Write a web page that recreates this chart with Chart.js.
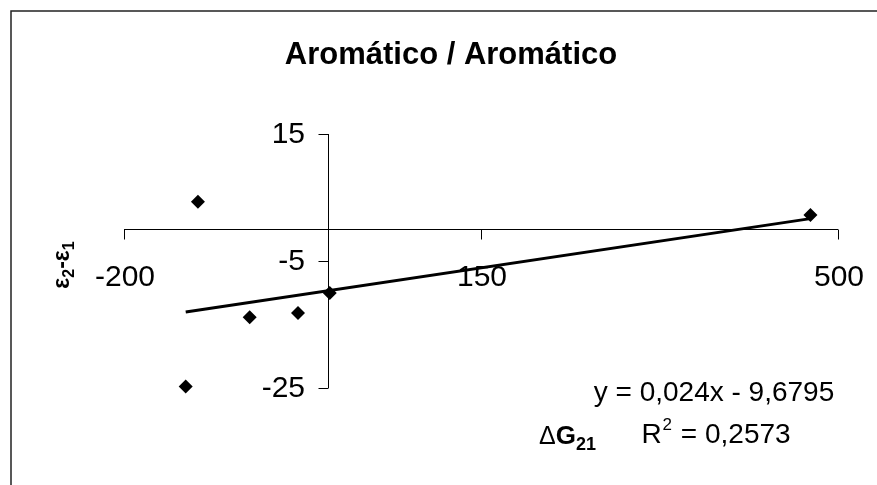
<!DOCTYPE html>
<html>
<head>
<meta charset="utf-8">
<title>Aromático / Aromático</title>
<script src="https://cdn.jsdelivr.net/npm/chart.js@4/dist/chart.umd.min.js"></script>
<style>
  html, body { margin: 0; padding: 0; background: #fff; }
  #wrap { position: relative; width: 877px; height: 485px; }
</style>
</head>
<body>
<div id="wrap"><canvas id="scatterChart"></canvas></div>
<script>
// measured points (ΔG21 vs ε2-ε1)
const xValues = [-127.5, -139.5, -76.8, -29.4, 1.7, 473];
const yValues = [4.35, -24.76, -13.86, -13.19, -10.05, 2.25];

const xTicks = [-200, 150, 500];
const yTicks = [15, -5, -25];

// linear fit shown in the label
const trendSlope = 0.024;
const trendIntercept = -9.6795;
const trendLabel = 'y = 0,024x - 9,6795';
const r2Label = '0,2573';

const FONT = '"Liberation Sans", Arial, sans-serif';

const points = xValues.map((x, i) => ({ x: x, y: yValues[i] }));
const xMin = Math.min(...xValues);
const xMax = Math.max(...xValues);
const trendPoints = [xMin, xMax].map(x => ({ x: x, y: trendSlope * x + trendIntercept }));

// axes that cross at the origin, Excel style, plus the outer frame
const crossAxes = {
    id: 'crossAxes',
    beforeDatasetsDraw(chart) {
        const ctx = chart.ctx;
        const xs = chart.scales.x;
        const ys = chart.scales.y;
        const x0 = Math.round(xs.getPixelForValue(0)) + 0.5;
        const y0 = Math.round(ys.getPixelForValue(0)) + 0.5;
        ctx.save();

        ctx.strokeStyle = '#222';
        ctx.lineWidth = 1.5;
        ctx.beginPath();
        ctx.moveTo(11, 485);
        ctx.lineTo(11, 11);
        ctx.lineTo(877, 11);
        ctx.stroke();

        ctx.strokeStyle = '#000';
        ctx.lineWidth = 1;
        ctx.beginPath();
        ctx.moveTo(xs.left, y0);
        ctx.lineTo(xs.right, y0);
        ctx.moveTo(x0, ys.top);
        ctx.lineTo(x0, ys.bottom);
        xTicks.forEach(v => {
            const px = Math.round(xs.getPixelForValue(v)) + 0.5;
            ctx.moveTo(px, y0);
            ctx.lineTo(px, y0 + 10);
        });
        yTicks.forEach(v => {
            const py = Math.round(ys.getPixelForValue(v)) + 0.5;
            ctx.moveTo(x0 - 10, py);
            ctx.lineTo(x0, py);
        });
        ctx.stroke();
        ctx.restore();
    },
    afterDraw(chart) {
        const ctx = chart.ctx;
        const xs = chart.scales.x;
        const ys = chart.scales.y;
        const x0 = xs.getPixelForValue(0);
        ctx.save();
        ctx.fillStyle = '#000';

        // title
        ctx.font = 'bold 31px ' + FONT;
        ctx.textAlign = 'center';
        ctx.textBaseline = 'alphabetic';
        ctx.fillText('Aromático / Aromático', 451, 64);

        // tick labels
        ctx.font = '30px ' + FONT;
        xTicks.forEach(v => {
            ctx.fillText(String(v), xs.getPixelForValue(v) + 1, 286);
        });
        ctx.textAlign = 'right';
        ctx.textBaseline = 'middle';
        yTicks.forEach(v => {
            ctx.fillText(String(v), x0 - 23, ys.getPixelForValue(v) + 1);
        });

        // x axis title: ΔG21
        ctx.textAlign = 'left';
        ctx.textBaseline = 'alphabetic';
        ctx.font = '25px ' + FONT;
        let tx = 539;
        ctx.fillText('Δ', tx, 444);
        tx += ctx.measureText('Δ').width;
        ctx.font = 'bold 26px ' + FONT;
        ctx.fillText('G', tx, 444);
        tx += ctx.measureText('G').width;
        ctx.font = 'bold 18px ' + FONT;
        ctx.fillText('21', tx, 450);

        // y axis title: ε2-ε1, rotated
        ctx.translate(62, 265);
        ctx.rotate(-Math.PI / 2);
        const parts = [['ε', 0, 23], ['2', 5, 16], ['-', 0, 23], ['ε', 0, 23], ['1', 5, 16]];
        let total = 0;
        parts.forEach(p => {
            ctx.font = 'bold ' + p[2] + 'px ' + FONT;
            total += ctx.measureText(p[0]).width;
        });
        let px = -total / 2;
        parts.forEach(p => {
            ctx.font = 'bold ' + p[2] + 'px ' + FONT;
            ctx.fillText(p[0], px, 7 + p[1]);
            px += ctx.measureText(p[0]).width;
        });
        ctx.setTransform(1, 0, 0, 1, 0, 0);

        // regression label, R² built from pieces so the superscript keeps its gap
        ctx.textAlign = 'center';
        ctx.font = '28px ' + FONT;
        ctx.fillText(trendLabel, 714, 401);

        ctx.textAlign = 'left';
        const rest = ' = ' + r2Label;
        const rW = ctx.measureText('R').width;
        const restW = ctx.measureText(rest).width;
        ctx.font = '17px ' + FONT;
        const supW = ctx.measureText('2').width;
        let rx = 716 - (rW + supW + 2 + restW) / 2;
        ctx.font = '28px ' + FONT;
        ctx.fillText('R', rx, 443);
        rx += rW + 1;
        ctx.font = '17px ' + FONT;
        ctx.fillText('2', rx, 430);
        rx += supW + 1;
        ctx.font = '28px ' + FONT;
        ctx.fillText(rest, rx, 443);

        ctx.restore();
    }
};

new Chart(document.getElementById('scatterChart'), {
    type: 'scatter',
    data: {
        datasets: [
            {
                label: 'ε2-ε1',
                data: points,
                pointStyle: 'rectRot',
                pointRadius: 7,
                pointHoverRadius: 7,
                backgroundColor: '#000',
                borderColor: '#000',
                borderWidth: 0,
                clip: false
            },
            {
                label: 'Linear',
                type: 'line',
                data: trendPoints,
                borderColor: '#000',
                borderWidth: 3,
                pointRadius: 0,
                fill: false,
                clip: false
            }
        ]
    },
    options: {
        responsive: true,
        maintainAspectRatio: false,
        animation: false,
        events: [],
        layout: {
            padding: { left: 124, right: 39, top: 134, bottom: 97 }
        },
        plugins: {
            legend: { display: false },
            tooltip: { enabled: false }
        },
        scales: {
            x: { type: 'linear', display: false, min: -200, max: 500 },
            y: { type: 'linear', display: false, min: -25, max: 15 }
        }
    },
    plugins: [crossAxes]
});
</script>
</body>
</html>
